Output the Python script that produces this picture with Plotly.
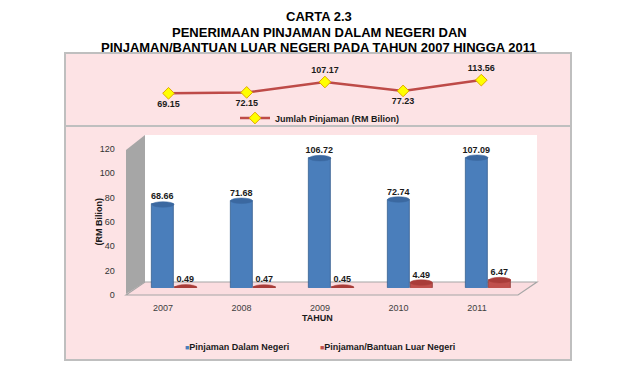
import plotly.graph_objects as go

# ---------------- data ----------------
years = ["2007", "2008", "2009", "2010", "2011"]
jumlah_pinjaman = [69.15, 72.15, 107.17, 77.23, 113.56]
dalam_negeri = [68.66, 71.68, 106.72, 72.74, 107.09]
luar_negeri = [0.49, 0.47, 0.45, 4.49, 6.47]
y_ticks = [0, 20, 40, 60, 80, 100, 120]

W, H = 640, 381
OFF = 8  # page body margin offset
FONT = "Liberation Sans, Arial, sans-serif"
PINK = "#FDE3E5"
BORDER = "#BFBFBF"
BLUE = "#4A7EBB"
BLUE_TOP = "#3B68A0"
RED = "#C0504D"
RED_TOP = "#A93C39"


def px(x):
    return (x - OFF) / W


def py(y):
    return 1 - (y - OFF) / H


idx = list(range(len(years)))
bar_w = 0.28
red_off = 0.29
blue_x = [i for i in idx]
red_x = [i + red_off for i in idx]

fig = go.Figure()

# top line chart
label_pos = ["bottom center", "bottom center", "top center", "bottom center", "top center"]
fig.add_trace(go.Scatter(
    x=idx, y=jumlah_pinjaman, mode="lines+markers+text",
    text=[f"{v:.2f}" for v in jumlah_pinjaman], textposition=label_pos,
    textfont=dict(family=FONT, size=9, color="#1a1a1a", weight="bold"),
    line=dict(color="#BE4B48", width=2.5),
    marker=dict(symbol="diamond", size=9, color="#FFFF00", line=dict(color="#E0A800", width=1)),
    name="Jumlah Pinjaman (RM Bilion)", legend="legend2",
    xaxis="x", yaxis="y", cliponaxis=False,
))

# bars
fig.add_trace(go.Bar(
    x=blue_x, y=dalam_negeri, width=bar_w, name="Pinjaman Dalam Negeri", showlegend=False,
    marker=dict(color=BLUE, line=dict(color="#365F91", width=0.8)),
    text=[f"{v:.2f}" for v in dalam_negeri], textposition="outside", constraintext="none",
    textfont=dict(family=FONT, size=9, color="#1a1a1a", weight="bold"),
    xaxis="x2", yaxis="y3", cliponaxis=False,
))
fig.add_trace(go.Bar(
    x=red_x, y=luar_negeri, width=bar_w, name="Pinjaman/Bantuan Luar Negeri", showlegend=False,
    marker=dict(color=RED, line=dict(color="#8C3836", width=0.8)),
    text=[f"{v:.2f}" for v in luar_negeri], textposition="outside", constraintext="none",
    textfont=dict(family=FONT, size=9, color="#1a1a1a", weight="bold"),
    xaxis="x2", yaxis="y3", cliponaxis=False,
))
# legend entries with small square keys placed right next to the text
for nm, col, lg in (("Pinjaman Dalam Negeri", BLUE, "legend"),
                    ("Pinjaman/Bantuan Luar Negeri", RED, "legend3")):
    fig.add_trace(go.Scatter(x=[None], y=[None], mode="markers",
                             name=f"<span style='color:{col};font-size:7px'>■</span>{nm}",
                             marker=dict(symbol="square", size=5, color="rgba(0,0,0,0)"),
                             xaxis="x2", yaxis="y3", legend=lg))
# invisible trace to hold the tick axis
fig.add_trace(go.Scatter(x=[0], y=[0], mode="markers", marker=dict(opacity=0),
                         showlegend=False, hoverinfo="skip", xaxis="x2", yaxis="y2"))

shapes = []
# panels
shapes.append(dict(type="rect", xref="paper", yref="paper", x0=px(65), x1=px(571), y0=py(53), y1=py(126),
                   fillcolor=PINK, line=dict(color=BORDER, width=2), layer="below"))
shapes.append(dict(type="rect", xref="paper", yref="paper", x0=px(65), x1=px(571), y0=py(126), y1=py(360),
                   fillcolor=PINK, line=dict(color=BORDER, width=2), layer="below"))
# back wall
shapes.append(dict(type="rect", xref="paper", yref="paper", x0=px(145), x1=px(537), y0=py(282), y1=py(135),
                   fillcolor="white", line=dict(width=0), layer="below"))
# side wall
shapes.append(dict(type="path", xref="paper", yref="paper",
                   path=f"M {px(126)},{py(294)} L {px(126)},{py(150)} L {px(145)},{py(135)} L {px(145)},{py(282)} Z",
                   fillcolor="#A6A6A6", line=dict(width=0), layer="below"))
# floor
shapes.append(dict(type="path", xref="paper", yref="paper",
                   path=f"M {px(126)},{py(295)} L {px(145)},{py(282)} L {px(537)},{py(282)} L {px(518)},{py(295)} Z",
                   fillcolor="#FBDDE0", line=dict(color="#A6A6A6", width=1.2), layer="below"))

# cylinder ends (ellipses) derived from data
eh = 2.3
for xs, vals, col, top in ((blue_x, dalam_negeri, BLUE, BLUE_TOP), (red_x, luar_negeri, RED, RED_TOP)):
    for xv, v in zip(xs, vals):
        shapes.append(dict(type="circle", xref="x2", yref="y3", x0=xv - bar_w / 2, x1=xv + bar_w / 2,
                           y0=-eh, y1=eh, fillcolor=col, line=dict(width=0), layer="above"))
        shapes.append(dict(type="circle", xref="x2", yref="y3", x0=xv - bar_w / 2, x1=xv + bar_w / 2,
                           y0=v - eh, y1=v + eh, fillcolor=top, line=dict(color=top, width=0.5), layer="above"))

annotations = [
    dict(text="<b>CARTA 2.3</b>", x=px(319), y=py(16)),
    dict(text="<b>PENERIMAAN PINJAMAN DALAM NEGERI DAN</b>", x=px(319), y=py(32)),
    dict(text="<b>PINJAMAN/BANTUAN LUAR NEGERI PADA TAHUN 2007 HINGGA 2011</b>", x=px(319), y=py(47)),
]
for a in annotations:
    a.update(xref="paper", yref="paper", showarrow=False, xanchor="center", yanchor="middle",
             borderpad=0, font=dict(family=FONT, size=13, color="black"))
annotations.append(dict(text="<b>(RM Bilion)</b>", x=px(91.5), y=py(222), xref="paper", yref="paper",
                        textangle=-90, showarrow=False, font=dict(family=FONT, size=9, color="#1a1a1a")))
annotations.append(dict(text="<b>TAHUN</b>", x=px(317), y=py(324), xref="paper", yref="paper",
                        showarrow=False, borderpad=0, font=dict(family=FONT, size=9, color="#1a1a1a")))

leg_font = dict(family=FONT, size=9, color="#1a1a1a", weight="bold")
fig.update_layout(
    width=W, height=H, margin=dict(l=0, r=0, t=0, b=0, autoexpand=False),
    paper_bgcolor="white", plot_bgcolor="rgba(0,0,0,0)",
    font=dict(family=FONT, size=9, color="#404040"),
    barmode="overlay", bargap=0,
    shapes=shapes, annotations=annotations,
    xaxis=dict(domain=[px(129.4), px(520.4)], range=[-0.5, 4.5], visible=False, anchor="y"),
    yaxis=dict(domain=[py(100), py(70)], range=[46.6, 147.6], visible=False, anchor="x"),
    xaxis2=dict(domain=[px(123.75), px(516.25)], range=[-0.5, 4.5], tickvals=idx, ticktext=years,
                anchor="y2", showgrid=False, zeroline=False, showline=False, ticks="", automargin=False,
                ticklabelstandoff=6, tickfont=dict(size=9, color="#404040")),
    yaxis2=dict(domain=[py(295), py(149)], range=[0, 120], tickvals=y_ticks, anchor="x2",
                showgrid=False, zeroline=False, showline=False, ticks="", automargin=False,
                ticklabelstandoff=8, tickfont=dict(size=9, color="#333333")),
    yaxis3=dict(domain=[py(288), py(142)], range=[0, 120], visible=False, anchor="x2"),
    legend=dict(orientation="h", x=px(185 - 40), y=py(346), xanchor="left", yanchor="middle",
                bgcolor="rgba(0,0,0,0)", font=leg_font, itemwidth=30),
    legend3=dict(orientation="h", x=px(320 - 40), y=py(346), xanchor="left", yanchor="middle",
                 bgcolor="rgba(0,0,0,0)", font=leg_font, itemwidth=30),
    legend2=dict(orientation="h", x=px(235), y=py(118), xanchor="left", yanchor="middle",
                 bgcolor="rgba(0,0,0,0)", font=leg_font),
    showlegend=True,
)

fig.write_html("out.html")
